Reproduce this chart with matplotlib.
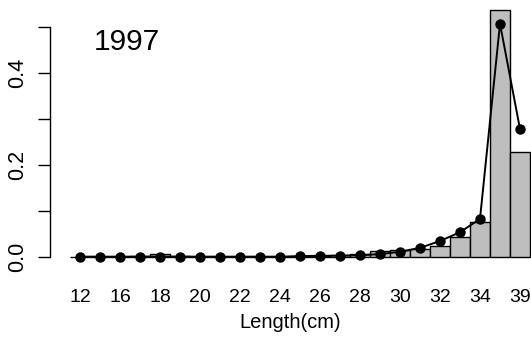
import numpy as np
import matplotlib
matplotlib.use('Agg')
import matplotlib.pyplot as plt

plt.rcParams['font.family'] = ['Liberation Sans', 'DejaVu Sans']

# 体长组 (cm)
lengths = ['12', '14', '16', '17', '18', '19', '20', '21', '22', '23', '24', '25',
           '26', '27', '28', '29', '30', '31', '32', '33', '34', '36', '39']
# 观测比例 (柱)
obs = [0.001, 0.0005, 0.001, 0.002, 0.007, 0.002, 0.001, 0.001, 0.001, 0.001,
       0.001, 0.002, 0.003, 0.005, 0.006, 0.013, 0.015, 0.017, 0.024, 0.044,
       0.077, 0.537, 0.228]
# 预测比例 (点线)
pred = [0.001, 0.001, 0.001, 0.001, 0.001, 0.001, 0.001, 0.001, 0.001, 0.001,
        0.001, 0.002, 0.003, 0.003, 0.004, 0.0065, 0.0115, 0.02, 0.035, 0.054,
        0.083, 0.507, 0.278]
year = '1997'

W, H = 531, 356
fig = plt.figure(figsize=(W / 100, H / 100), dpi=100, facecolor='w')
ax = fig.add_axes([50 / W, (H - 267) / H, (W - 50) / W, 267 / H])

x = np.arange(len(lengths))
ax.bar(x, obs, width=1.0, color='#bebebe', edgecolor='black', linewidth=1.0, zorder=1)
ax.plot(x, pred, color='black', linewidth=1.4, marker='o', markersize=6.5, zorder=3)

ax.set_xlim(-1.5, -1.5 + (W - 50) / 20.0)
ax.set_ylim(-0.0215, 0.5585)

for s in ['top', 'right', 'bottom']:
    ax.spines[s].set_visible(False)
ax.spines['left'].set_bounds(0, 0.5)
ax.spines['left'].set_linewidth(1.0)

yt = np.arange(0, 0.51, 0.1)
ax.set_yticks(yt)
ax.set_yticklabels(['0.0', '', '0.2', '', '0.4', ''], rotation=90, va='center', fontsize=15.5)
ax.tick_params(axis='y', length=9, width=1.0, pad=7)

ax.set_xticks(x[::2])
ax.set_xticklabels(lengths[::2], fontsize=14)
ax.tick_params(axis='x', length=0, pad=16)
ax.set_xlabel('Length(cm)', fontsize=14.5, labelpad=5)

ax.text(2.35, 0.467, year, ha='center', va='center', fontsize=21.5)

plt.savefig('out.png', dpi=100)
